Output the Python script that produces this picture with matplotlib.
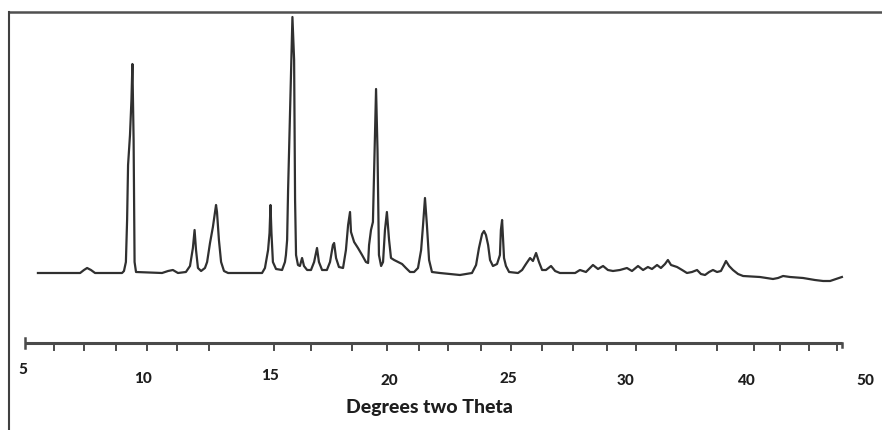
import matplotlib
matplotlib.use("Agg")
import matplotlib.pyplot as plt

# Traced XRD pattern (degrees two theta, relative intensity)
two_theta = [5.64, 7.39, 7.55, 7.68, 7.84, 8.01, 9.13, 9.21, 9.29, 9.34, 9.38, 9.46, 9.52, 9.56, 9.61, 9.65, 9.71,
             10.79, 11.04, 11.24, 11.45, 11.78, 11.95, 12.07, 12.14, 12.20, 12.28, 12.41, 12.57, 12.66, 12.78,
             12.90, 12.99, 13.03, 13.07, 13.15, 13.24, 13.36, 13.53, 14.94, 15.06, 15.19, 15.25, 15.29, 15.33,
             15.39, 15.52, 15.77, 15.89, 15.93, 15.98, 16.02, 16.08, 16.14, 16.20, 16.27, 16.31, 16.35, 16.43,
             16.51, 16.60, 16.68, 16.81, 16.97, 17.10, 17.22, 17.30, 17.43, 17.63, 17.76, 17.88, 17.93, 18.01,
             18.13, 18.30, 18.42, 18.51, 18.59, 18.63, 18.76, 18.92, 19.09, 19.25, 19.34, 19.38, 19.46, 19.54,
             19.61, 19.67, 19.73, 19.79, 19.88, 19.96, 20.04, 20.12, 20.21, 20.29, 20.42, 20.58, 20.75, 20.91,
             21.08, 21.25, 21.41, 21.54, 21.62, 21.70, 21.78, 21.87, 21.99, 22.32, 23.15, 23.65, 23.82, 23.94,
             24.07, 24.15, 24.23, 24.32, 24.40, 24.52, 24.69, 24.81, 24.85, 24.90, 24.94, 24.98, 25.06, 25.19,
             25.56, 25.73, 25.89, 26.06, 26.18, 26.31, 26.43, 26.56, 26.72, 26.93, 27.10, 27.30, 27.93, 28.13,
             28.38, 28.67, 28.88, 29.09, 29.29, 29.50, 29.79, 30.08, 30.29, 30.54, 30.75, 30.95, 31.12, 31.33,
             31.49, 31.66, 31.78, 31.91, 32.16, 32.37, 32.57, 32.78, 32.99, 33.15, 33.32, 33.49, 33.65, 33.82,
             33.98, 34.11, 34.19, 34.32, 34.48, 34.69, 34.90, 35.60, 36.14, 36.35, 36.56, 36.85, 37.39, 37.88,
             38.22, 38.51, 38.76, 39.00]
intensity = [17, 17, 20, 22, 20, 17, 17, 19, 28, 70, 125, 155, 190, 226, 150, 28, 18,
             17, 19, 20, 17, 18, 24, 42, 60, 40, 22, 19, 22, 28, 47,
             63, 78, 85, 78, 50, 28, 19, 17, 17, 22, 40, 57, 85, 57,
             28, 21, 20, 28, 35, 50, 100, 157, 210, 273, 230, 90, 35, 25,
             24, 32, 24, 20, 20, 28, 42, 28, 20, 20, 28, 45, 47, 32,
             23, 22, 40, 65, 78, 58, 48, 42, 35, 28, 27, 45, 60, 68,
             140, 201, 140, 35, 24, 28, 60, 78, 50, 32, 30, 28, 26, 22,
             18, 18, 22, 40, 65, 92, 65, 30, 18, 17, 15, 17, 25, 42,
             56, 59, 55, 45, 30, 24, 26, 35, 60, 70, 50, 32, 24, 18,
             17, 20, 26, 32, 29, 37, 28, 20, 20, 24, 19, 17, 17, 20,
             18, 25, 21, 24, 20, 19, 20, 22, 19, 24, 20, 23, 21, 25,
             22, 26, 30, 25, 23, 20, 17, 18, 20, 16, 15, 18, 20, 18,
             19, 25, 29, 24, 20, 16, 14, 13, 11, 12, 14, 13, 12, 10,
             9, 9, 11, 13]

# Hand-drawn axis: tick marks and label positions (degrees two theta)
axis_ticks = [6.31, 7.55, 8.88, 10.17, 11.41, 12.74, 15.44, 16.97, 18.67, 20.12, 21.45, 22.66,
              24.02, 25.27, 26.56, 27.84, 29.25, 30.46, 32.12, 33.82, 35.35, 36.43, 37.64, 38.80]
tick_labels = ["5", "10", "15", "20", "25", "30", "40", "50"]
tick_label_pos = [5.02, 10.0, 15.27, 20.21, 25.15, 30.0, 35.06, 39.96]
tick_label_y = [-80, -89, -86, -91, -89, -91, -91, -91]
axis_start, axis_end = 5.10, 39.0
xlabel = "Degrees two Theta"

fig = plt.figure(figsize=(8.82, 4.30), dpi=100)
ax = fig.add_axes([0, 0, 1, 1])
ax.set_xlim(4.066, 40.664)
ax.set_ylim(-140, 290)
ax.axis("off")

line_col = "#303030"
ax.plot(two_theta, intensity, color=line_col, lw=1.6, solid_joinstyle="round")

# custom axis line
axis_y = -53
ax.plot([axis_start, axis_end], [axis_y, axis_y], color="#4a4a4a", lw=2.2, solid_capstyle="butt")
ax.plot([axis_start, axis_start], [axis_y + 5, axis_y - 5], color="#4a4a4a", lw=1.8)
ax.plot([axis_end, axis_end], [axis_y, axis_y - 4], color="#4a4a4a", lw=1.8)
for t in axis_ticks:
    ax.plot([t, t], [axis_y, axis_y - 7], color="#4a4a4a", lw=1.4)

for lab, xp, yp in zip(tick_labels, tick_label_pos, tick_label_y):
    ax.text(xp, yp, lab, ha="center", va="center", fontsize=11, fontweight=900,
            family="Lato", color="#1e1e1e")

ax.text(21.88, -117, xlabel, ha="center", va="center", fontsize=14, fontweight=900,
        family="Lato", color="#1e1e1e")

# outer frame (top and left)
fx = 9 / 882
fy = 1 - 12 / 430
ax.plot([fx, 1.0], [fy, fy], transform=ax.transAxes, color="#505050", lw=1.8, clip_on=False)
ax.plot([fx, fx], [fy, 0.0], transform=ax.transAxes, color="#404040", lw=1.5, clip_on=False)

fig.savefig("out.png", dpi=100)
